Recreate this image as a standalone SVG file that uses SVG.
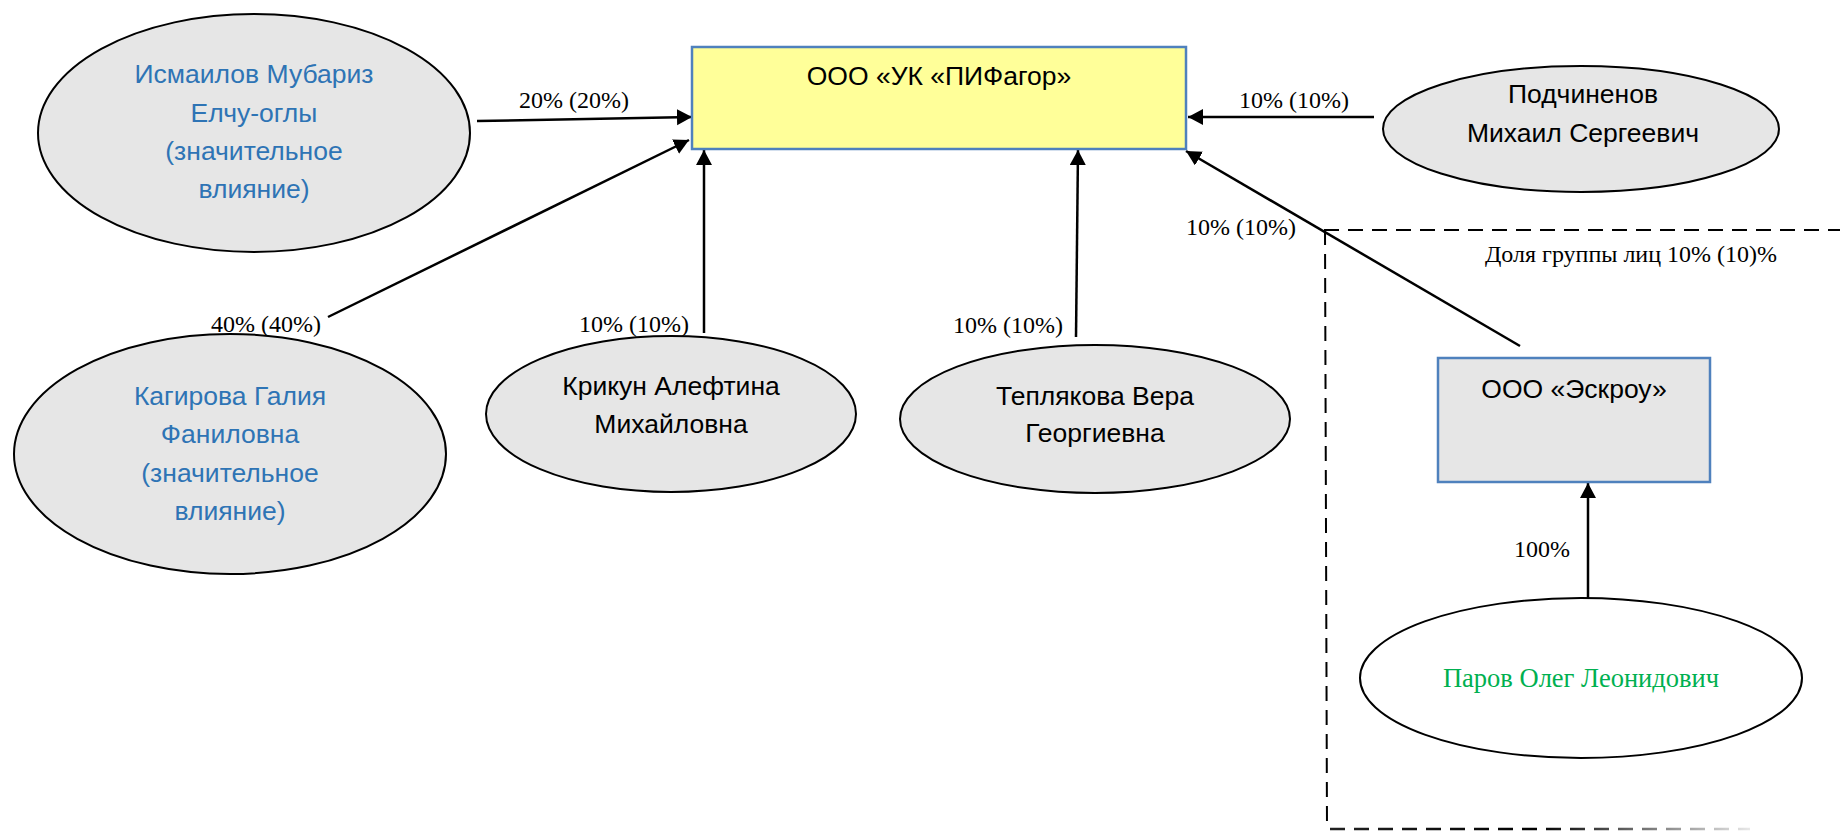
<svg xmlns="http://www.w3.org/2000/svg" width="1840" height="831" viewBox="0 0 1840 831">
<defs>
<style>
.ell{fill:#E6E6E6;stroke:#000;stroke-width:2}
.box{stroke:#4F81BD;stroke-width:2.5}
.sans{font-family:"Liberation Sans",Arial,sans-serif;font-size:26.5px;text-anchor:middle}
.blue{fill:#2E74B5}
.blk{fill:#000}
.lbl{font-family:"Liberation Serif","Times New Roman",serif;font-size:24px;fill:#000;text-anchor:middle}
.con{stroke:#000;stroke-width:2.5;fill:none;marker-end:url(#arr)}
.dash{stroke:#000;stroke-width:2;fill:none;stroke-dasharray:15 9}
</style>
<marker id="arr" markerUnits="userSpaceOnUse" markerWidth="18" markerHeight="18" refX="15" refY="8" orient="auto">
<path d="M0,0 L15,8 L0,16 Z" fill="#000"/>
</marker>
<linearGradient id="fade" gradientUnits="userSpaceOnUse" x1="1327" y1="0" x2="1750" y2="0">
<stop offset="0" stop-color="#222"/>
<stop offset="0.5" stop-color="#000"/>
<stop offset="1" stop-color="#e8e8e8"/>
</linearGradient>
</defs>

<g id="group-frame">
<path class="dash" d="M1324,230 H1840"/>
<path class="dash" d="M1325,230 L1327,829"/>
<path d="M1330,829 H1750" stroke="url(#fade)" stroke-width="2.5" stroke-dasharray="15 9" fill="none"/>
<text class="lbl" x="1631" y="262">Доля группы лиц 10% (10)%</text>
</g>

<g id="connectors">
<line class="con" x1="477" y1="121" x2="692" y2="117"/>
<line class="con" x1="328" y1="317" x2="689" y2="140"/>
<line class="con" x1="704" y1="333" x2="704" y2="150"/>
<line class="con" x1="1076" y1="337" x2="1078" y2="150"/>
<line class="con" x1="1374" y1="117" x2="1188" y2="117"/>
<line class="con" x1="1520" y1="346" x2="1186" y2="151"/>
<line class="con" x1="1588" y1="598" x2="1588" y2="483"/>
<text class="lbl" x="574" y="108">20% (20%)</text>
<text class="lbl" x="266" y="332">40% (40%)</text>
<text class="lbl" x="634" y="332">10% (10%)</text>
<text class="lbl" x="1008" y="333">10% (10%)</text>
<text class="lbl" x="1294" y="108">10% (10%)</text>
<text class="lbl" x="1241" y="235">10% (10%)</text>
<text class="lbl" x="1542" y="557">100%</text>
</g>

<g id="pifagor">
<rect class="box" x="692" y="47" width="494" height="102" fill="#FFFF99"/>
<text class="sans blk" x="939" y="85">ООО «УК «ПИФагор»</text>
</g>

<g id="ismailov">
<ellipse class="ell" cx="254" cy="133" rx="216" ry="119"/>
<text class="sans blue" x="254" y="83">Исмаилов Мубариз</text>
<text class="sans blue" x="254" y="122">Елчу-оглы</text>
<text class="sans blue" x="254" y="160">(значительное</text>
<text class="sans blue" x="254" y="198">влияние)</text>
</g>

<g id="kagirova">
<ellipse class="ell" cx="230" cy="454" rx="216" ry="120"/>
<text class="sans blue" x="230" y="405">Кагирова Галия</text>
<text class="sans blue" x="230" y="443">Фаниловна</text>
<text class="sans blue" x="230" y="482">(значительное</text>
<text class="sans blue" x="230" y="520">влияние)</text>
</g>

<g id="krikun">
<ellipse class="ell" cx="671" cy="414" rx="185" ry="78"/>
<text class="sans blk" x="671" y="395">Крикун Алефтина</text>
<text class="sans blk" x="671" y="433">Михайловна</text>
</g>

<g id="teplyakova">
<ellipse class="ell" cx="1095" cy="419" rx="195" ry="74"/>
<text class="sans blk" x="1095" y="405">Теплякова Вера</text>
<text class="sans blk" x="1095" y="442">Георгиевна</text>
</g>

<g id="podchinenov">
<ellipse class="ell" cx="1581" cy="129" rx="198" ry="63"/>
<text class="sans blk" x="1583" y="103">Подчиненов</text>
<text class="sans blk" x="1583" y="142">Михаил Сергеевич</text>
</g>

<g id="eskrou">
<rect class="box" x="1438" y="358" width="272" height="124" fill="#E6E6E6"/>
<text class="sans blk" x="1574" y="398">ООО «Эскроу»</text>
</g>

<g id="parov">
<ellipse cx="1581" cy="678" rx="221" ry="80" fill="#FFFFFF" stroke="#000" stroke-width="2"/>
<text x="1581" y="687" font-family="'Liberation Serif','Times New Roman',serif" font-size="26.5" fill="#00B050" text-anchor="middle">Паров Олег Леонидович</text>
</g>
</svg>
